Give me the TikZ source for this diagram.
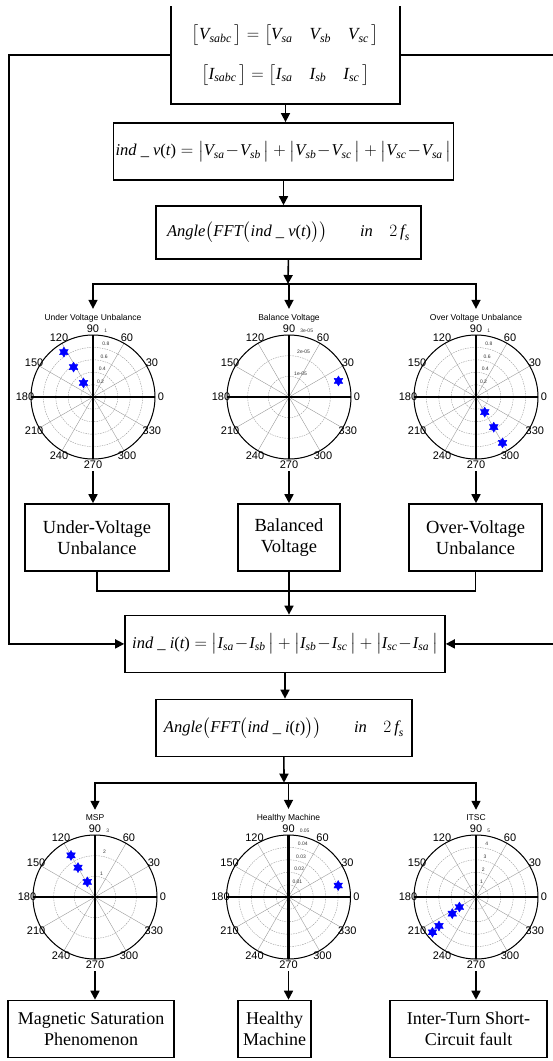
\documentclass[tikz,border=0pt]{standalone}
\usepackage{amsmath}
\usepackage{fontspec}
\setmainfont{Liberation Serif}
\newfontfamily\plotfont{Liberation Sans}
\usetikzlibrary{arrows.meta, positioning, calc, shapes.geometric}
\newcommand{\itx}[1]{\textit{#1}}
\newcommand{\dmin}{\mkern1mu{-}\mkern1mu}
\tikzset{
  proc/.style={rectangle, draw, line width=1.6pt, fill=white, align=center, inner sep=2pt},
  arr/.style={-{Triangle[length=9pt, width=9pt]}, line width=1.6pt},
  wire/.style={line width=1.6pt},
  ring/.style={dash pattern=on 1.5pt off 1pt, gray!80, line width=0.4pt},
  spoke/.style={gray!80, line width=0.4pt},
  axisline/.style={line width=2.6pt},
  deg/.style={font=\plotfont\fontsize{11}{11}\selectfont, inner sep=0pt},
  rtick/.style={font=\plotfont\fontsize{5}{5}\selectfont, anchor=south west, inner sep=0pt, text=black!80},
  ptitle/.style={font=\plotfont\fontsize{8.5}{9}\selectfont, inner sep=1pt},
  hexstar/.style={star, star points=6, star point ratio=1.73, fill=blue, draw=blue, minimum size=10pt, inner sep=0pt},
}
% #1 centre, #2 title, #3 rings, #4 ring labels, #5 angle/radius of the points
\newcommand{\polarplot}[5]{%
  \begin{scope}[shift={(#1)}, y=1pt]
    \foreach \k in {1,...,#3}
      \draw[ring] (0,0) circle ({62*\k/#3});
    \foreach \a in {30,60,120,150}
      \draw[spoke] (\a:62) -- (\a+180:62);
    \draw[line width=1pt] (0,0) circle (62);
    \draw[axisline] (-62,0) -- (62,0);
    \draw[axisline] (0,-62) -- (0,62);
    \foreach \a in {0,30,...,330}
      \node[deg] (#1-\a) at (\a:68) {\a};
    \foreach \t [count=\k] in {#4}
      \node[rtick] at ($(82:{62*\k/#3*1.05})+(2,0)$) {\t};
    \foreach \a/\r in {#5}
      \node[hexstar] at (\a:\r) {};
    \node[ptitle] (#1-title) at (0,79) {#2};
  \end{scope}}

\begin{document}
\begin{tikzpicture}[x=1pt, y=-1pt]
  \useasboundingbox (0,0) rectangle (552,1061);

  % measured signals
  \node[proc, draw=none, fill=none, minimum width=227pt, minimum height=96pt, font=\fontsize{17}{20}\selectfont] (src) at (285.5,55)
    {$\bigl[\itx{V}_{\itx{sabc}}\,\bigr] = \bigl[\itx{V}_{\itx{sa}}\quad\itx{V}_{\itx{sb}}\quad\itx{V}_{\itx{sc}}\,\bigr]$\\[18pt]
     $\bigl[\itx{I}_{\itx{sabc}}\,\bigr] = \bigl[\itx{I}_{\itx{sa}}\quad\itx{I}_{\itx{sb}}\quad\itx{I}_{\itx{sc}}\,\bigr]$};
  \draw[wire] (src.north west) -- (src.south west) -- (src.south east) -- (src.north east);

  % voltage stage
  \node[proc, minimum width=321pt, minimum height=57pt, font=\fontsize{16.5}{20}\selectfont] (indv) at (283.5,151.4)
    {$\itx{ind \_ v}\textup{(}\itx{t}\textup{)} = \bigl|\itx{V}_{\itx{sa}}\dmin\itx{V}_{\itx{sb}}\,\bigr| + \bigl|\itx{V}_{\itx{sb}}\dmin\itx{V}_{\itx{sc}}\,\bigr| + \bigl|\itx{V}_{\itx{sc}}\dmin\itx{V}_{\itx{sa}}\,\bigr|$};
  \node[proc, minimum width=265pt, minimum height=53pt, font=\fontsize{16.5}{20}\selectfont] (angv) at (288.4,232.5)
    {$\itx{Angle}\bigl(\itx{FFT}\bigl(\itx{ind \_ v}\textup{(}\itx{t}\textup{)}\bigr)\bigr)\qquad\itx{in}\quad 2\,\itx{f}_{\itx{s}}$};

  \coordinate (uv) at (93,397);
  \coordinate (bv) at (289,397);
  \coordinate (ov) at (476,397);
  \polarplot{uv}{Under Voltage Unbalance}{5}{0.2,0.4,0.6,0.8,1}{123/53.5,123/35.7,124/17}
  \polarplot{bv}{Balance Voltage}{3}{1e-05,2e-05,3e-05}{18/52}
  \polarplot{ov}{Over Voltage Unbalance}{5}{0.2,0.4,0.6,0.8,1}{300/17.5,300.5/35,300/53}

  \node[proc, minimum width=144pt, minimum height=67pt, font=\fontsize{18.5}{21}\selectfont] (uvbox) at (97,537.5) {Under-Voltage\\Unbalance};
  \node[proc, minimum width=102pt, minimum height=67pt, font=\fontsize{18.5}{21}\selectfont] (bvbox) at (289,537.5) {Balanced\\Voltage};
  \node[proc, minimum width=133pt, minimum height=67pt, font=\fontsize{18.5}{21}\selectfont] (ovbox) at (475.5,537.5) {Over-Voltage\\Unbalance};

  % current stage
  \node[proc, minimum width=320pt, minimum height=57pt, font=\fontsize{16.5}{20}\selectfont] (indi) at (285,643.9)
    {$\itx{ind \_ i}\textup{(}\itx{t}\textup{)} = \bigl|\itx{I}_{\itx{sa}}\dmin\itx{I}_{\itx{sb}}\,\bigr| + \bigl|\itx{I}_{\itx{sb}}\dmin\itx{I}_{\itx{sc}}\,\bigr| + \bigl|\itx{I}_{\itx{sc}}\dmin\itx{I}_{\itx{sa}}\,\bigr|$};
  \node[proc, minimum width=256pt, minimum height=57pt, font=\fontsize{16.5}{20}\selectfont] (angi) at (283.9,727.9)
    {$\itx{Angle}\bigl(\itx{FFT}\bigl(\itx{ind \_ i}\textup{(}\itx{t}\textup{)}\bigr)\bigr)\qquad\itx{in}\quad 2\,\itx{f}_{\itx{s}}$};

  \coordinate (msp) at (95,897);
  \coordinate (hm) at (288.5,897);
  \coordinate (itsc) at (476,897);
  \polarplot{msp}{MSP}{3}{1,2,3}{120/48,120/34,117/17}
  \polarplot{hm}{Healthy Machine}{5}{0.01,0.02,0.03,0.04,0.05}{13/51}
  \polarplot{itsc}{ITSC}{5}{1,2,3,4,5}{211/19.4,215/29,218/47,219/56}

  \node[proc, minimum width=166pt, minimum height=57pt, font=\fontsize{18}{21}\selectfont] (msbox) at (91,1029) {Magnetic Saturation\\Phenomenon};
  \node[proc, minimum width=73pt, minimum height=57pt, font=\fontsize{18}{21}\selectfont] (hmbox) at (274.5,1029) {Healthy\\Machine};
  \node[proc, minimum width=157pt, minimum height=57pt, font=\fontsize{18}{21}\selectfont] (itbox) at (468.5,1029) {Inter-Turn Short-\\Circuit fault};

  % connectors
  \coordinate (vsplit) at (288,284);
  \coordinate (imerge) at (287,591);
  \coordinate (isplit) at (284,782.7);
  \coordinate (lcorner) at (9,55);
  \coordinate (rcorner) at (557,55);

  \draw[arr] (src.south) -- (src.south |- indv.north);
  \draw[arr] (indv.south) -- (indv.south |- angv.north);
  \draw[arr] (angv.south) -- (vsplit);
  \draw[arr, shorten >=4pt] (vsplit) -| (uv-title.north);
  \draw[arr, shorten >=4pt] (vsplit) -- (vsplit -| bv-title.north) -- (bv-title.north);
  \draw[arr, shorten >=4pt] (vsplit) -| (ov-title.north);
  \draw[arr, shorten <=2pt] (uv-270.south) -- (uv-270.south |- uvbox.north);
  \draw[arr, shorten <=2pt] (bv-270.south) -- (bv-270.south |- bvbox.north);
  \draw[arr, shorten <=2pt] (ov-270.south) -- (ov-270.south |- ovbox.north);
  \draw[wire] (uvbox.south) |- (imerge) -| (ovbox.south);
  \draw[arr] (bvbox.south) -- (bvbox.south |- indi.north);

  \draw[arr] (src.west) -- (lcorner) |- (indi.west);
  \draw[arr] (src.east) -- (rcorner) |- (indi.east);

  \draw[arr] (indi.south) -- (indi.south |- angi.north);
  \draw[arr] (angi.south) -- (isplit);
  \draw[arr, shorten >=4pt] (isplit) -| (msp-title.north);
  \draw[arr, shorten >=4pt] (isplit) -- (isplit -| hm-title.north) -- (hm-title.north);
  \draw[arr, shorten >=4pt] (isplit) -| (itsc-title.north);
  \draw[arr, shorten <=2pt] (msp-270.south) -- (msp-270.south |- msbox.north);
  \draw[arr, shorten <=2pt] (hm-270.south) -- (hm-270.south |- hmbox.north);
  \draw[arr, shorten <=2pt] (itsc-270.south) -- (itsc-270.south |- itbox.north);
\end{tikzpicture}
\end{document}
